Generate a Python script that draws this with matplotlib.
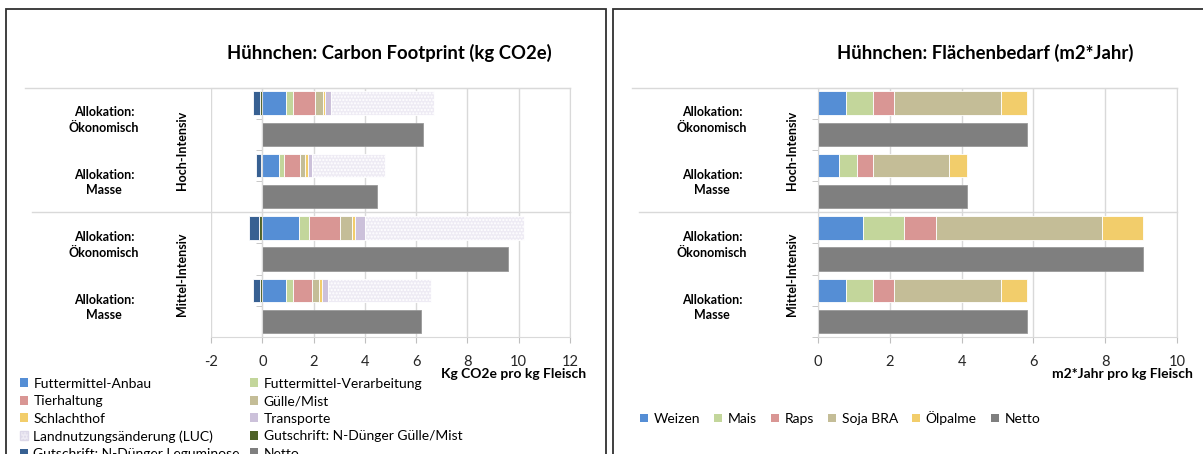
import matplotlib
matplotlib.use('Agg')
import matplotlib.pyplot as plt
import matplotlib.transforms as mtransforms
from matplotlib.patches import Rectangle, Patch
from matplotlib.lines import Line2D

plt.rcParams['font.family'] = ['Lato', 'DejaVu Sans']

W, H = 1203, 454

alloc_labels = ['Allokation:\nÖkonomisch', 'Allokation:\nMasse',
                'Allokation:\nÖkonomisch', 'Allokation:\nMasse']
intensity_labels = ['Hoch-Intensiv', 'Mittel-Intensiv']

# carbon footprint, kg CO2e per kg meat (Hoch-Oek, Hoch-Masse, Mittel-Oek, Mittel-Masse)
co2_series = ['Futtermittel-Anbau', 'Futtermittel-Verarbeitung', 'Tierhaltung',
              'Gülle/Mist', 'Schlachthof', 'Transporte',
              'Landnutzungsänderung (LUC)', 'Gutschrift: N-Dünger Gülle/Mist',
              'Gutschrift: N-Dünger Leguminose', 'Netto']
anbau = [0.92, 0.66, 1.44, 0.92]
verarbeitung = [0.26, 0.20, 0.39, 0.26]
tierhaltung = [0.88, 0.60, 1.20, 0.75]
guelle = [0.29, 0.21, 0.48, 0.29]
schlachthof = [0.10, 0.10, 0.10, 0.10]
transporte = [0.23, 0.15, 0.39, 0.23]
luc = [4.01, 2.88, 6.19, 4.02]
gs_guelle = [-0.08, -0.06, -0.12, -0.08]
gs_legum = [-0.30, -0.19, -0.41, -0.27]
co2_netto = [6.28, 4.49, 9.58, 6.17]

# land use, m2*year per kg meat
area_series = ['Weizen', 'Mais', 'Raps', 'Soja BRA', 'Ölpalme', 'Netto']
weizen = [0.79, 0.58, 1.25, 0.79]
mais = [0.74, 0.51, 1.14, 0.74]
raps = [0.60, 0.44, 0.90, 0.59]
soja = [2.97, 2.11, 4.63, 2.97]
oelpalme = [0.72, 0.52, 1.13, 0.73]
area_netto = [5.83, 4.16, 9.05, 5.83]

c_blue = '#558ed5'
c_green = '#c3d69b'
c_red = '#d99694'
c_tan = '#c4bd97'
c_yellow = '#f2cd6b'
c_lilac = '#ccc1da'
c_luc = '#eeebf4'
c_olive = '#4f6228'
c_navy = '#376092'
c_netto = '#7f7f7f'
grid_c = '#d9d9d9'

fig = plt.figure(figsize=(W / 100, H / 100), dpi=100)


def px_axes(x0, x1, y0, y1):
    return fig.add_axes([x0 / W, 1 - y1 / H, (x1 - x0) / W, (y1 - y0) / H])


def draw_panel(ax, pos_stack, neg_stack, netto, xlim, xticks):
    bar_y = [2 * i + 0.5 for i in range(4)]
    net_y = [2 * i + 1.5 for i in range(4)]
    left = [0.0] * 4
    for vals, style in pos_stack:
        ax.barh(bar_y, vals, left=left, height=0.75, edgecolor='white',
                linewidth=0.6, **style)
        left = [a + b for a, b in zip(left, vals)]
    left = [0.0] * 4
    for vals, style in neg_stack:
        ax.barh(bar_y, vals, left=left, height=0.75, edgecolor='white',
                linewidth=0.6, **style)
        left = [a + b for a, b in zip(left, vals)]
    ax.barh(net_y, netto, height=0.75, color=c_netto, edgecolor='#999999',
            linewidth=0.6)

    ax.set_xlim(*xlim)
    ax.set_ylim(8, 0)
    ax.set_xticks(xticks)
    ax.set_xticklabels([str(t) for t in xticks])
    ax.set_yticks([])
    ax.set_yticks(range(9), minor=True)
    ax.tick_params(axis='y', which='minor', length=4, color='#bfbfbf')
    ax.tick_params(axis='x', length=4, color='#bfbfbf', labelsize=10.5,
                   labelcolor='#262626', pad=9)
    ax.xaxis.grid(True, color=grid_c, lw=1)
    ax.set_axisbelow(True)
    for s in ax.spines.values():
        s.set_color(grid_c)
    ax.spines['left'].set_position(('data', 0))


def decorate(ax, title, title_x, xlabel, xlabel_x, alloc_x, rot_x, line_x0, sep_x0):
    tr = mtransforms.blended_transform_factory(fig.transFigure, ax.transData)
    x1 = ax.get_position().x1
    fig.add_artist(Line2D([line_x0 / W, x1], [0, 0], transform=tr, color=grid_c, lw=1))
    fig.add_artist(Line2D([sep_x0 / W, x1], [4, 4], transform=tr, color=grid_c, lw=1))
    for i, lab in enumerate(alloc_labels):
        fig.text(alloc_x / W, 2 * i + 1.05, lab, transform=tr, ha='center',
                 va='center', fontsize=9, fontweight='bold', linespacing=1.35)
    for i, lab in enumerate(intensity_labels):
        fig.text(rot_x / W, 4 * i + 2, lab, transform=tr, ha='center',
                 va='center', rotation=90, fontsize=9, fontweight='bold')
    fig.text(title_x / W, 1 - 53 / H, title, ha='center', va='center',
             fontsize=13.3, fontweight='bold')
    fig.text(xlabel_x / W, 1 - 374 / H, xlabel, ha='right', va='center',
             fontsize=10, fontweight='bold')


# panel frames
fig.add_artist(Rectangle((6 / W, -0.1), 600 / W, 1.1 - 9 / H,
                         transform=fig.transFigure, fill=False, ec='#303030', lw=1.3))
fig.add_artist(Rectangle((613 / W, -0.1), 620 / W, 1.1 - 9 / H,
                         transform=fig.transFigure, fill=False, ec='#303030', lw=1.3))

# left: carbon footprint
ax1 = px_axes(211, 570, 87.5, 337)
pos1 = [(anbau, dict(color=c_blue)),
        (verarbeitung, dict(color=c_green)),
        (tierhaltung, dict(color=c_red)),
        (guelle, dict(color=c_tan)),
        (schlachthof, dict(color=c_yellow)),
        (transporte, dict(color=c_lilac)),
        (luc, dict(facecolor=c_luc, hatch='.....'))]
neg1 = [(gs_guelle, dict(color=c_olive)),
        (gs_legum, dict(color=c_navy))]
draw_panel(ax1, pos1, neg1, co2_netto, (-2, 12), list(range(-2, 13, 2)))
decorate(ax1, 'Hühnchen: Carbon Footprint (kg CO2e)', 389,
         'Kg CO2e pro kg Fleisch', 586, 104, 182, 25, 32)

# right: land use
ax2 = px_axes(818, 1177, 87.5, 337)
pos2 = [(weizen, dict(color=c_blue)),
        (mais, dict(color=c_green)),
        (raps, dict(color=c_red)),
        (soja, dict(color=c_tan)),
        (oelpalme, dict(color=c_yellow))]
draw_panel(ax2, pos2, [], area_netto, (0, 10), list(range(0, 11, 2)))
decorate(ax2, 'Hühnchen: Flächenbedarf (m2*Jahr)', 985,
         'm2*Jahr pro kg Fleisch', 1193, 712, 792, 632, 639)

# legends
co2_colors = [c_blue, c_green, c_red, c_tan, c_yellow, c_lilac, c_luc,
              c_olive, c_navy, c_netto]
h1 = [Patch(facecolor=c, edgecolor='#dcd8e8' if c == c_luc else 'none',
            hatch='.....' if c == c_luc else None, label=l)
      for c, l in zip(co2_colors, co2_series)]
h1 = h1[0::2] + h1[1::2]
fig.legend(handles=h1, ncol=2, loc='upper left',
           bbox_to_anchor=(14 / W, 1 - 372 / H), frameon=False, fontsize=10,
           handlelength=0.6, handleheight=0.6, handletextpad=0.4,
           labelspacing=0.4, columnspacing=0.7, borderaxespad=0)

area_colors = [c_blue, c_green, c_red, c_tan, c_yellow, c_netto]
h2 = [Patch(facecolor=c, label=l) for c, l in zip(area_colors, area_series)]
fig.legend(handles=h2, ncol=6, loc='center left',
           bbox_to_anchor=(634 / W, 1 - 418 / H), frameon=False, fontsize=10,
           handlelength=0.6, handleheight=0.6, handletextpad=0.4,
           columnspacing=1.0, borderaxespad=0)

fig.savefig('out.png', dpi=100)
